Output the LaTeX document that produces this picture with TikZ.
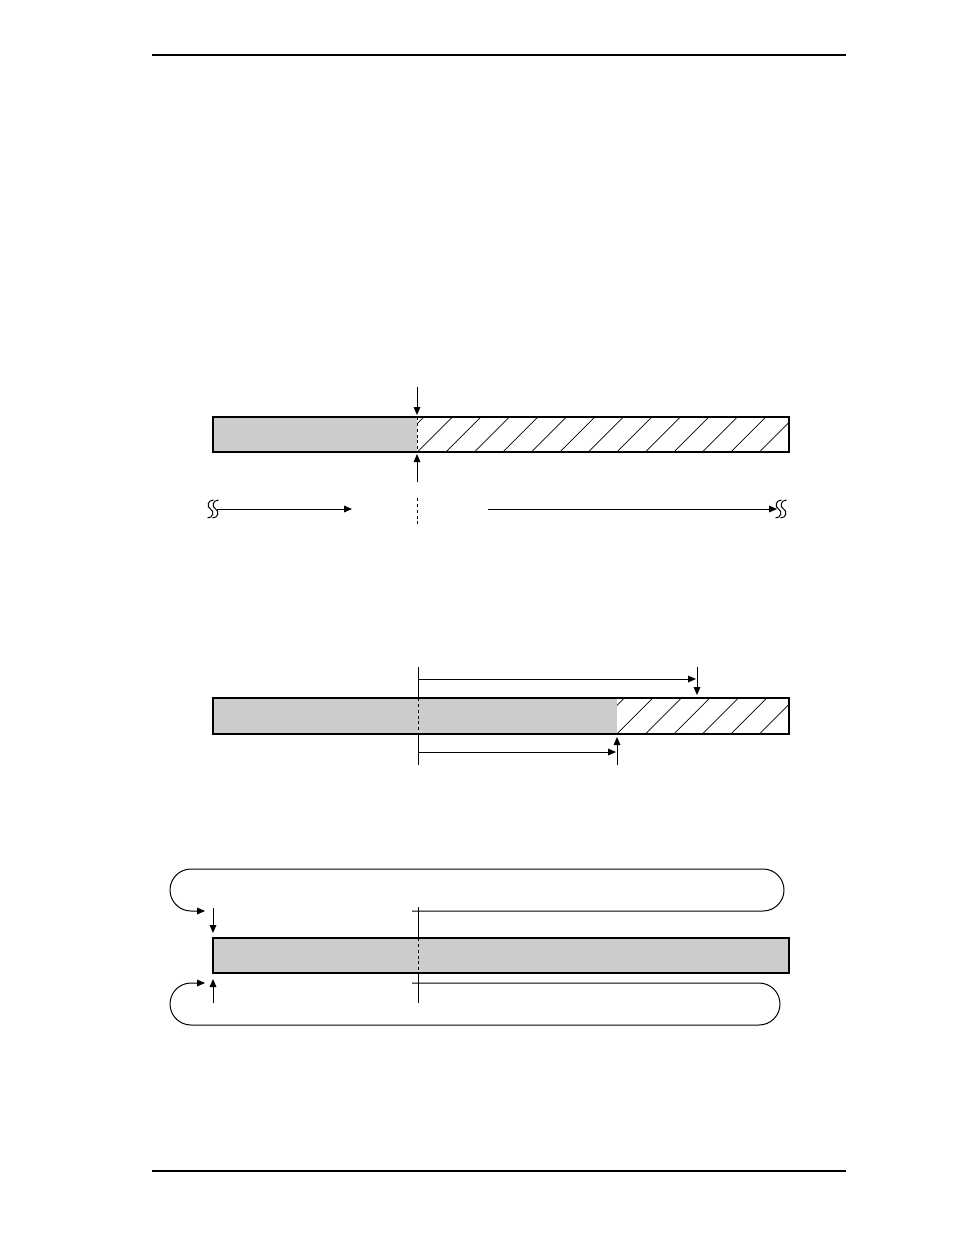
\documentclass[tikz,border=0pt]{standalone}
\usetikzlibrary{arrows.meta}

\begin{document}
\begin{tikzpicture}[x=0.75pt, y=-0.75pt, line width=0.75pt,
    tip/.style={-{Triangle[length=6pt,width=5pt]}},
    cut/.style={dash pattern=on 2.2pt off 2.2pt},
    rule/.style={line width=1.1pt}]
    \useasboundingbox (0,0) rectangle (954,1235);
    \draw[rule] (152,55) -- (846,55);
    \draw[rule] (152,1171) -- (846,1171);

    \fill[black!20] (213,417) rectangle (417,452);
    \begin{scope}
        \clip (417,417) rectangle (789,452);
        \foreach \k in {-1,...,13}
            \draw[line width=0.5pt] ({417.3+28.5*\k},452) -- ++(35,-35);
    \end{scope}
    \draw[line width=0.9pt] (213,417) rectangle (789,452);
    \draw[cut] (417,417) -- (417,452);
    \coordinate (in) at (417,387);
    \coordinate (intip) at (417,415);
    \coordinate (out) at (417,482);
    \coordinate (outtip) at (417,454);
    \draw[tip] (in) -- (intip);
    \draw[tip] (out) -- (outtip);
    \draw[cut] (417,498) -- (417,527);
    \coordinate (pastA) at (217,509);
    \coordinate (pastB) at (352,509);
    \coordinate (nextA) at (488,509);
    \coordinate (nextB) at (777,509);
    \draw[tip] (pastA) -- (pastB);
    \draw[tip] (nextA) -- (nextB);
    \foreach \x in {210.5,215.5,778.5,783.5}
        \draw (\x+3,500) .. controls (\x-3,500) and (\x-4,507) .. (\x,509)
            .. controls (\x+4,511) and (\x+3,518) .. (\x-3,518);

    \fill[black!20] (213,698) rectangle (617,734);
    \begin{scope}
        \clip (617,698) rectangle (789,734);
        \foreach \k in {6,...,13}
            \draw[line width=0.5pt] ({417.3+28.5*\k},734) -- ++(36,-36);
    \end{scope}
    \draw[line width=0.9pt] (213,698) rectangle (789,734);
    \draw[cut] (418,698) -- (418,734);
    \draw (418,667) -- (418,698);
    \draw (418,734) -- (418,765);
    \coordinate (wA) at (418,679);
    \coordinate (wB) at (696,679);
    \coordinate (wtop) at (697,667);
    \coordinate (wtip) at (697,695);
    \coordinate (rA) at (418,752);
    \coordinate (rB) at (616,752);
    \coordinate (rbot) at (617,765);
    \coordinate (rtip) at (617,737);
    \draw[tip] (wA) -- (wB);
    \draw[tip] (wtop) -- (wtip);
    \draw[tip] (rA) -- (rB);
    \draw[tip] (rbot) -- (rtip);

    \fill[black!20] (213,938) rectangle (789,973);
    \draw[line width=0.9pt] (213,938) rectangle (789,973);
    \draw[cut] (418,938) -- (418,973);
    \draw (418,907) -- (418,938);
    \draw (418,973) -- (418,1003);
    \coordinate (topA) at (412,911);
    \coordinate (topB) at (205,911);
    \coordinate (botA) at (412,983);
    \coordinate (botB) at (205,983);
    \draw[tip, rounded corners=15.75pt] (topA) -- (784,911) -- (784,869) -- (170,869) -- (170,911) -- (topB);
    \draw[tip, rounded corners=15.75pt] (botA) -- (780,983) -- (780,1025) -- (170,1025) -- (170,983) -- (botB);
    \coordinate (wr) at (213,908);
    \coordinate (wrtip) at (213,933);
    \coordinate (rd) at (213,1003);
    \coordinate (rdtip) at (213,979);
    \draw[tip] (wr) -- (wrtip);
    \draw[tip] (rd) -- (rdtip);
\end{tikzpicture}
\end{document}
